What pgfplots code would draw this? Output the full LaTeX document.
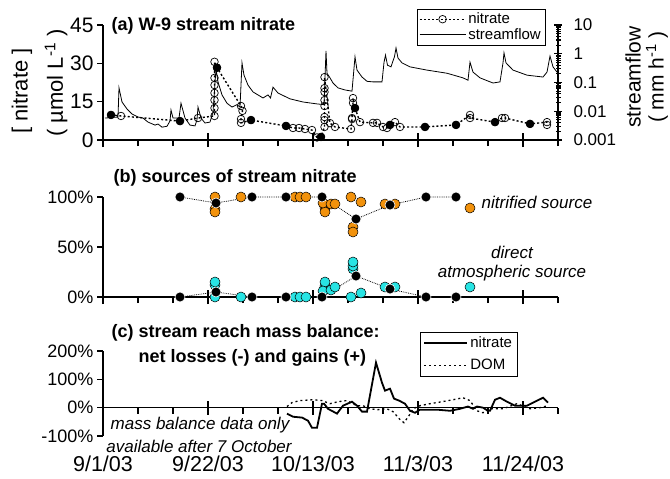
\documentclass[border=0pt]{standalone}
\usepackage{pgfplots}
\pgfplotsset{compat=1.18}
\usepackage{fontspec}
\setmainfont{Liberation Sans}
\definecolor{orng}{RGB}{242,146,12}
\definecolor{cyn}{RGB}{40,228,228}
\pgfplotsset{
 base/.style={
  scale only axis, width=455pt, xmin=0, xmax=91, anchor=south west,
  axis line style={line width=1.5pt},
  tick style={line width=1.3pt, black},
  xtick={7,14,28,35,49,56,70,77,91}, xticklabels={}, xtick align=outside,
  ytick align=outside, major tick length=6pt,
  extra x ticks={0,21,42,63,84},
  extra x tick style={tick align=center, major tick length=14pt},
  extra x tick labels={},
  /pgf/number format/assume math mode=true,
  clip=false,
 },
}
\begin{document}
\begin{tikzpicture}[x=1pt,y=1pt]
\path[use as bounding box] (0,0) rectangle (670,-479);

% ---------- panel (a): streamflow (right, log) ----------
\begin{axis}[scale only axis, width=455pt, height=115pt, at={(103pt,-140pt)}, anchor=south west,
  xmin=0, xmax=91, ymode=log, ymin=0.001, ymax=10,
  axis x line=none, axis y line*=right,
  axis line style={line width=1.5pt},
  ytick={0.001,0.01,0.1,1,10}, yticklabels={0.001,0.01,0.1,1,10},
  minor ytick={0.002,0.003,0.004,0.005,0.006,0.007,0.008,0.009,0.02,0.03,0.04,0.05,0.06,0.07,0.08,0.09,0.2,0.3,0.4,0.5,0.6,0.7,0.8,0.9,2,3,4,5,6,7,8,9},
  ytick align=center, major tick length=8pt, minor tick length=5pt,
  tick style={line width=1.1pt, black},
  yticklabel style={font=\fontsize{17}{17}\selectfont, xshift=8pt},
  /pgf/number format/assume math mode=true]
\addplot[black, line width=0.8pt] table {
0.4 0.0058
3.0 0.0063
3.2 0.065
3.8 0.021
4.8 0.012
5.8 0.008
7.0 0.0063
8.0 0.0058
9.0 0.0042
10.4 0.0033
11.0 0.0036
11.8 0.0028
12.8 0.0030
13.4 0.0046
13.6 0.011
14.0 0.0058
15.2 0.0058
15.6 0.019
16.4 0.0058
17.4 0.0033
18.4 0.0031
18.8 0.005
19.0 0.014
19.6 0.0058
20.4 0.0039
21.4 0.0042
22.0 0.0093
22.6 0.30
23.0 0.105
23.8 0.037
24.8 0.019
25.8 0.014
26.8 0.017
27.4 0.014
27.8 0.48
28.2 0.18
29.0 0.081
30.0 0.047
32.0 0.029
33.0 0.037
33.5 0.029
34.0 0.069
35.0 0.043
37.4 0.027
40.0 0.021
42.8 0.018
44.2 0.017
44.6 1.26
44.8 0.21
45.4 0.145
46.0 0.096
47.0 0.065
48.4 0.055
49.8 0.050
50.4 0.78
50.8 0.27
51.8 0.155
52.8 0.11
54.0 0.105
55.8 0.105
56.2 0.5
56.5 0.9
56.9 0.4
57.6 0.35
58.3 0.8
58.6 1.58
59.0 0.71
59.8 0.48
61.4 0.35
64.8 0.27
68.8 0.21
72.0 0.145
73.0 0.12
73.4 0.51
74.0 0.23
75.4 0.145
78.0 0.096
79.4 0.105
80.0 0.48
80.2 1.07
80.6 0.48
82.0 0.27
84.8 0.18
88.0 0.155
88.8 0.23
89.4 0.83
90.0 0.35
90.8 0.23
};
\end{axis}

% ---------- panel (a): nitrate (left) ----------
\begin{axis}[base, at={(103pt,-140pt)}, height=115pt,
  axis x line*=bottom, axis y line*=left,
  ymin=0, ymax=45, ytick={0,15,30,45},
  yticklabel style={font=\fontsize{21}{21}\selectfont},
  legend style={at={(0.971,1.139)}, anchor=north east, draw=black, font=\fontsize{15}{15}\selectfont,
    cells={anchor=west}, row sep=-1pt, inner sep=2pt, outer sep=0pt},
  legend image code/.code={\draw[mark repeat=2,mark phase=2,#1] plot coordinates {(0pt,0pt) (23pt,0pt) (46pt,0pt)};}]
\addplot[black, line width=1.4pt, dash pattern=on 2pt off 2.2pt, mark=o, mark size=3.8pt,
  mark options={solid, fill=white, line width=0.7pt}] table {
1.6 9.8
3.6 9.4
15.4 7.4
19.0 8.6
22.3 9.4
22.3 12.5
22.3 15.6
22.3 18.4
22.3 21.5
22.3 24.3
22.3 30.6
22.8 28.3
27.6 13.3
27.9 11.4
27.6 8.2
27.6 6.7
29.6 7.8
36.6 5.5
38.0 4.7
39.2 4.7
40.4 4.3
41.8 3.9
42.8 1.0
43.6 1.2
44.3 5.1
44.3 7.8
44.3 9.0
44.3 13.3
44.3 15.6
44.3 18.8
44.3 20.3
44.3 24.6
45.4 6.6
46.4 5.1
49.6 4.3
49.8 8.2
49.8 8.6
50.0 14.5
50.0 16.4
50.4 12.5
51.4 7.0
54.0 6.7
54.8 6.7
56.0 5.1
56.8 4.7
57.4 5.9
58.4 7.0
59.4 5.1
64.4 5.1
70.6 5.9
73.4 9.8
73.4 8.6
78.4 7.0
79.8 8.6
80.4 8.6
85.4 6.3
88.8 7.0
88.8 5.9
};
\addlegendentry{nitrate}
\addplot[forget plot, only marks, mark=*, mark size=3.9pt, mark options={fill=black, draw=black}] table {
1.6 9.8
15.4 7.4
22.8 28.3
29.6 7.8
36.6 5.5
43.6 1.2
50.4 12.5
57.4 5.9
64.4 5.1
70.6 5.9
78.4 7.0
85.4 6.3
};
\addlegendimage{black, line width=0.8pt}
\addlegendentry{streamflow}
\end{axis}

\node[anchor=west, font=\bfseries\fontsize{18}{18}\selectfont] at (108,-26) {(a) W-9 stream nitrate};
\node[rotate=90, font=\fontsize{22}{22}\selectfont] at (22,-91) {[ nitrate ]};
\node[rotate=90, font=\fontsize{22}{22}\selectfont] at (56,-83) {( µmol L\textsuperscript{-1} )};
\node[rotate=90, font=\fontsize{21}{21}\selectfont] at (633,-77) {streamflow};
\node[rotate=90, font=\fontsize{21}{21}\selectfont] at (657,-77) {( mm h\textsuperscript{-1} )};

% ---------- panel (b) ----------
\begin{axis}[base, at={(103pt,-297pt)}, height=100pt,
  axis x line*=bottom, axis y line*=left,
  ymin=0, ymax=100, ytick={0,50,100}, yticklabels={0\%,50\%,100\%},
  yticklabel style={font=\fontsize{18}{18}\selectfont}]
\addplot[black, line width=0.8pt, densely dotted] table {
15.4 100
22.6 94
29.8 100
36.6 100
43.8 100
50.6 78
57.4 92
64.6 100
70.6 100
};
\addplot[black, line width=0.8pt, densely dotted] table {
15.4 0
22.6 5
29.8 0
36.6 0
43.8 0
50.6 21
57.4 8
64.6 0
70.6 0
};
\addplot[only marks, mark=*, mark size=5pt, mark options={fill=orng, draw=black, line width=0.5pt}] table {
22.4 100
22.4 88
22.4 85
27.6 100
38.4 100
39.4 100
40.6 100
44.4 89
44.4 85
44.0 94
45.6 93
46.4 93
49.6 100
51.6 95
50.0 70
50.0 65
56.4 93
58.4 93
73.4 89
};
\addplot[only marks, mark=*, mark size=5pt, mark options={fill=cyn, draw=black, line width=0.5pt}] table {
22.4 0
22.4 12
22.4 15
27.6 0
38.4 0
39.4 0
40.6 0
44.4 11
44.4 15
44.0 6
45.6 7
46.4 10
49.6 0
51.6 4
50.0 28
50.0 31
50.0 35
56.4 10
58.4 10
73.4 10
};
\addplot[only marks, mark=*, mark size=5pt, mark options={fill=black, draw=white, line width=0.6pt}] table {
15.4 100
22.6 94
29.8 100
36.6 100
43.8 100
50.6 78
57.4 92
64.6 100
70.6 100
15.4 0
22.6 5
29.8 0
36.6 0
43.8 0
50.6 21
57.4 8
64.6 0
70.6 0
};
\end{axis}

\node[anchor=west, font=\bfseries\fontsize{18}{18}\selectfont] at (110,-178) {(b) sources of stream nitrate};
\node[font=\itshape\fontsize{17}{17}\selectfont] at (537,-202) {nitrified source};
\node[font=\itshape\fontsize{17}{17}\selectfont] at (512,-252) {direct};
\node[font=\itshape\fontsize{17}{17}\selectfont] at (512,-273) {atmospheric source};

% ---------- panel (c) ----------
\begin{axis}[base, at={(103pt,-436pt)}, height=85pt,
  axis x line*=middle, axis y line*=left,
  hide obscured x ticks=false, hide obscured y ticks=false,
  ymin=-100, ymax=200, ytick={-100,0,100,200}, yticklabels={-100\%,0\%,100\%,200\%},
  yticklabel style={font=\fontsize{18}{18}\selectfont},
  extra x tick labels={9/1/03,9/22/03,10/13/03,11/3/03,11/24/03},
  xticklabel style={font=\fontsize{21.5}{21.5}\selectfont, inner sep=0pt, yshift=-41pt},
  legend style={at={(0.910,1.224)}, anchor=north east, draw=black, font=\fontsize{15}{15}\selectfont,
    cells={anchor=west}, row sep=6pt, inner sep=3pt, outer sep=0pt},
  legend image code/.code={\draw[#1] (0pt,0pt) -- (43pt,0pt);}]
\addplot[black, line width=1.8pt] table {
36.8 -21
38.0 -32
39.8 -35
41.0 -46
41.8 -71
42.8 -71
43.8 14
44.2 14
45.0 -4
46.8 -21
48.0 7
49.8 21
50.8 7
51.8 -14
52.8 -14
54.6 159
55.8 88
56.4 60
57.4 67
58.2 32
59.2 25
60.4 14
61.4 -11
62.4 -18
63.4 -7
66.8 -7
69.4 -11
71.4 -4
73.0 4
74.0 -4
74.8 4
76.0 0
77.0 -11
77.4 -11
78.4 28
79.4 35
80.8 21
82.4 7
84.8 7
86.4 21
88.0 35
89.0 18
};
\addlegendentry{nitrate}
\addplot[black, line width=1.3pt, dash pattern=on 2pt off 3pt] table {
36.8 4
37.8 18
39.4 25
42.0 28
43.8 25
45.4 14
47.0 21
48.8 25
50.8 7
52.0 7
53.4 -4
55.0 -7
56.8 -4
58.0 -14
59.4 -42
60.2 -53
61.2 -28
62.0 -4
63.4 7
65.4 14
67.8 21
70.0 28
72.0 35
73.4 25
74.8 -11
76.0 -18
77.4 -4
80.0 -4
82.8 14
85.4 -4
87.4 0
89.0 7
};
\addlegendentry{DOM}
\end{axis}

\node[anchor=west, font=\bfseries\fontsize{18}{18}\selectfont] at (108,-333) {(c) stream reach mass balance:};
\node[anchor=west, font=\bfseries\fontsize{18}{18}\selectfont] at (135,-358) {net losses (-) and gains (+)};
\node[font=\itshape\fontsize{17}{17}\selectfont] at (200,-425) {mass balance data only};
\node[font=\itshape\fontsize{17}{17}\selectfont] at (199,-446) {available after 7 October};
\end{tikzpicture}
\end{document}
